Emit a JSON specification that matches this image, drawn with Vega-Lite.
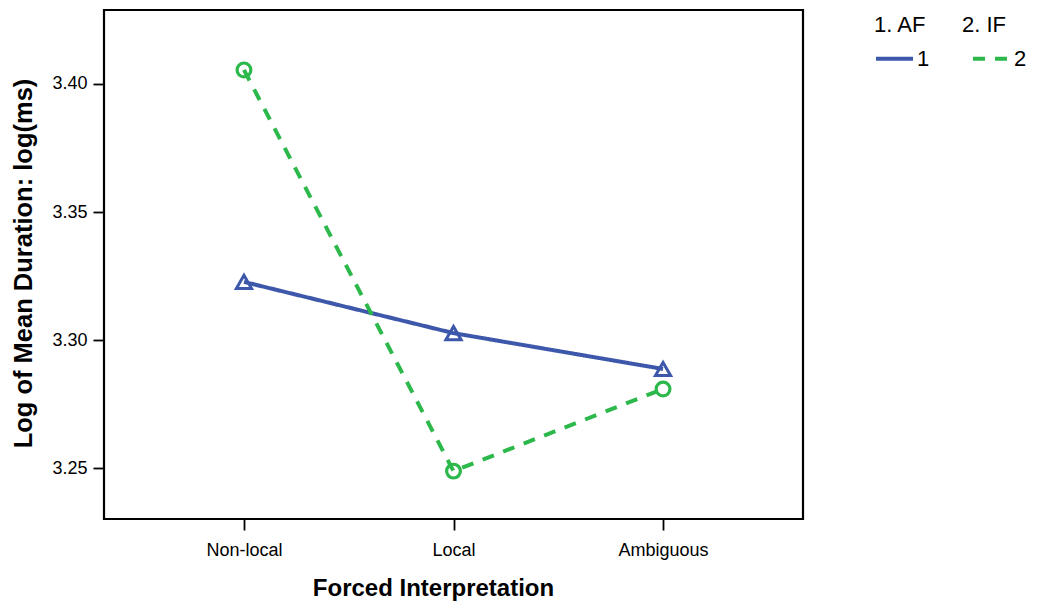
{
  "$schema": "https://vega.github.io/schema/vega-lite/v6.json",
  "autosize": "none",
  "padding": {"left": 104, "top": 10, "right": 234, "bottom": 87},
  "width": 699,
  "height": 509,
  "background": "white",
  "config": {
    "font": "Liberation Sans",
    "view": {"stroke": "black", "strokeWidth": 2.2},
    "axis": {
      "grid": false,
      "domain": false,
      "tickColor": "black",
      "tickWidth": 1.8,
      "tickSize": 11,
      "labelFont": "Liberation Sans",
      "labelFontSize": 18,
      "labelColor": "black",
      "titleFont": "Liberation Sans",
      "titleFontWeight": "bold",
      "titleColor": "black"
    }
  },
  "data": {
    "values": [
      {"interp": "Non-local", "group": "1", "dur": 3.3227},
      {"interp": "Local", "group": "1", "dur": 3.3027},
      {"interp": "Ambiguous", "group": "1", "dur": 3.2887},
      {"interp": "Non-local", "group": "2", "dur": 3.4055},
      {"interp": "Local", "group": "2", "dur": 3.2488},
      {"interp": "Ambiguous", "group": "2", "dur": 3.2809}
    ]
  },
  "encoding": {
    "x": {
      "field": "interp",
      "type": "nominal",
      "sort": ["Non-local", "Local", "Ambiguous"],
      "scale": {"type": "point", "padding": 0.668},
      "axis": {
        "title": "Forced Interpretation",
        "titleFontSize": 24,
        "labelAngle": 0,
        "labelPadding": 11,
        "titleX": 329,
        "titleY": 76,
        "titleAlign": "center",
        "titleBaseline": "alphabetic"
      }
    },
    "y": {
      "field": "dur",
      "type": "quantitative",
      "scale": {"domain": [3.2301, 3.4289], "nice": false, "zero": false},
      "axis": {
        "title": "Log of Mean Duration: log(ms)",
        "titleFontSize": 25.5,
        "values": [3.25, 3.3, 3.35, 3.4],
        "format": ".2f",
        "labelPadding": 6,
        "titleX": -81,
        "titleY": 253,
        "titleAngle": 270,
        "titleAlign": "center",
        "titleBaseline": "middle"
      }
    }
  },
  "layer": [
    {
      "mark": {"type": "line", "strokeWidth": 4},
      "encoding": {
        "strokeDash": {
          "field": "group",
          "type": "nominal",
          "scale": {"domain": ["1", "2"], "range": [[1, 0], [12, 10]]}
        },
        "order": {"field": "group"},
        "color": {
          "field": "group",
          "type": "nominal",
          "scale": {"domain": ["1", "2"], "range": ["#3D58AA", "#2DB84B"]},
          "legend": {
            "title": "\u00a01. AF\u00a0\u00a0\u00a0\u00a0\u00a0\u00a02. IF",
            "orient": "none",
            "legendX": 770,
            "legendY": 5,
            "direction": "horizontal",
            "padding": 0,
            "titleFontSize": 22,
            "titleFontWeight": "normal",
            "titleColor": "black",
            "titlePadding": 1,
            "labelFontSize": 22,
            "labelColor": "black",
            "labelOffset": 2,
            "columnPadding": 35,
            "symbolType": "stroke",
            "symbolSize": 1369,
            "symbolStrokeWidth": 4
          }
        }
      }
    },
    {
      "transform": [{"filter": "datum.group === '1'"}],
      "mark": {"type": "point", "shape": "triangle-up", "filled": false, "strokeWidth": 3, "opacity": 1, "size": 230, "color": "#3D58AA"}
    },
    {
      "transform": [{"filter": "datum.group === '2'"}],
      "mark": {"type": "point", "shape": "circle", "filled": false, "strokeWidth": 3.2, "opacity": 1, "size": 190, "color": "#2DB84B"}
    }
  ]
}
